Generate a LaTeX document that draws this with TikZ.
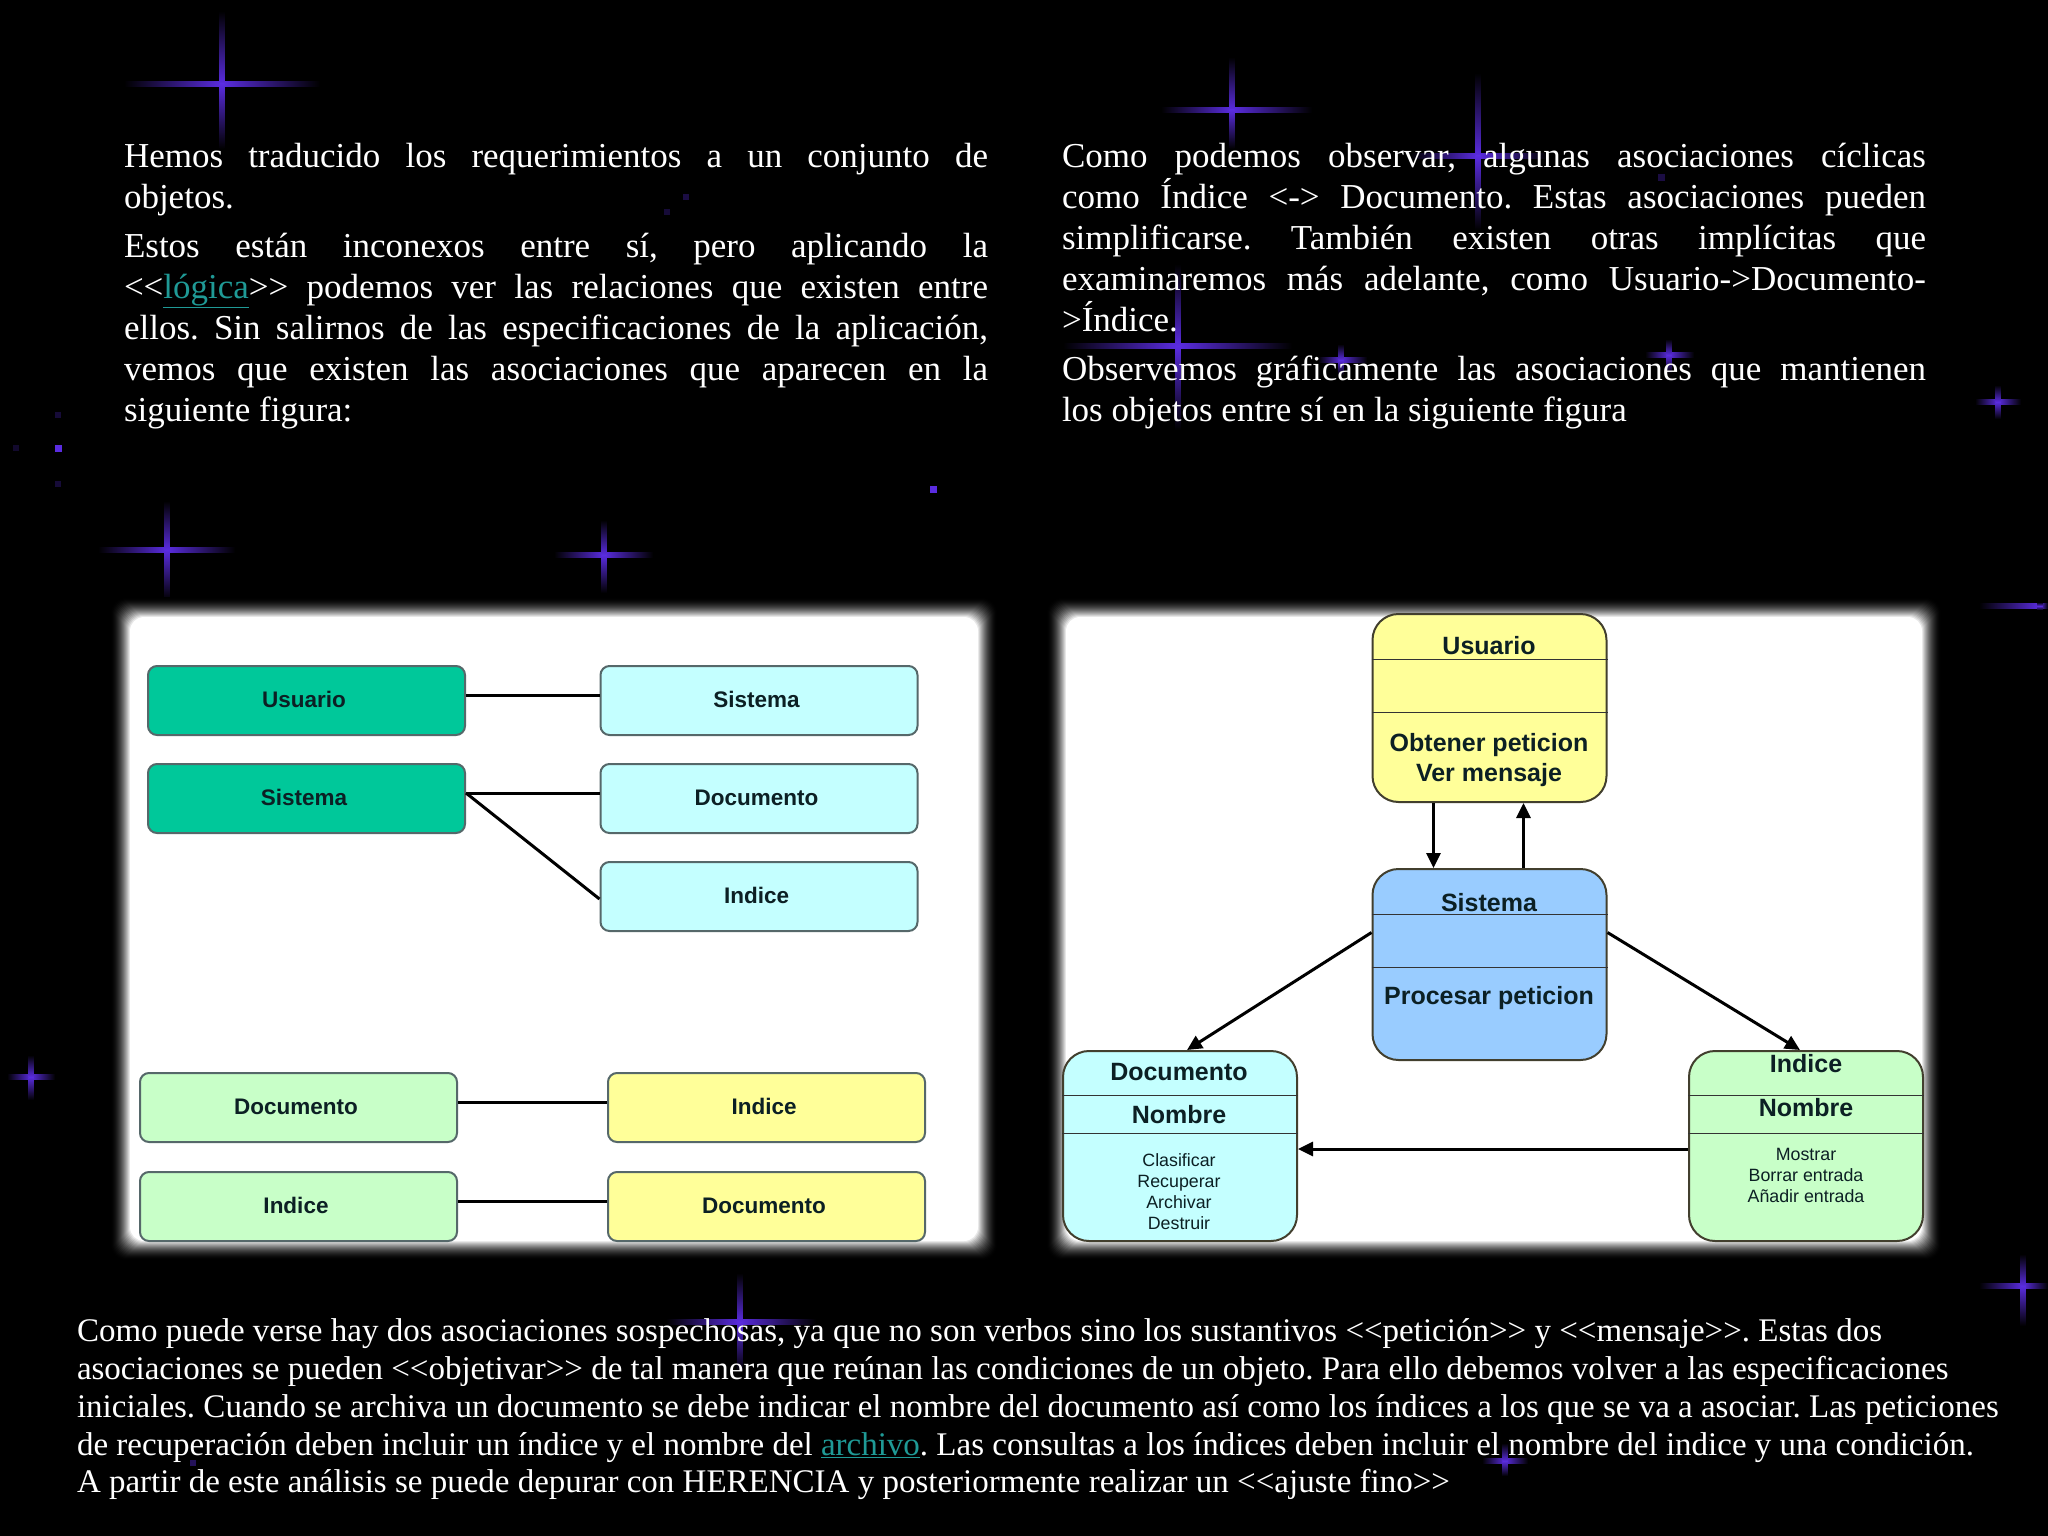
\documentclass[tikz,border=0pt]{standalone}
\usepackage{xcolor}
\usepackage{fontspec}
\usetikzlibrary{arrows.meta}
\newfontfamily\textoFont{Liberation Serif}
\newfontfamily\cajaFont{Liberation Sans}
\definecolor{Estrella}{HTML}{5A2CE0}
\definecolor{Enlace}{HTML}{1F9A96}
\definecolor{Teal}{HTML}{00C89A}
\definecolor{Cian}{HTML}{C4FFFF}
\definecolor{Verde}{HTML}{C8FFC8}
\definecolor{Amarillo}{HTML}{FFFF99}
\definecolor{Azul}{HTML}{99CCFF}
\definecolor{Tinta}{HTML}{0C2024}
\definecolor{Borde}{HTML}{56686A}
\frenchspacing

\begin{document}
\begin{tikzpicture}[x=1pt, y=-1pt]
            \tikzstyle{Parrafo} = [anchor=north west, inner sep=0pt, outer sep=0pt, text=white, font=\textoFont\fontsize{35}{41}\selectfont, align=justify, text width=864pt]
            \tikzstyle{Pie} = [anchor=north west, inner sep=0pt, outer sep=0pt, text=white, font=\textoFont\fontsize{33}{37.7}\selectfont, align=left]
            \tikzstyle{Caja} = [draw=Borde, line width=2pt, rounded corners=9pt, minimum width=317pt, minimum height=69pt, inner sep=0pt, text=Tinta, text height=17pt, text depth=3pt, font=\cajaFont\bfseries\fontsize{22.5}{26}\selectfont, execute at begin node=\hspace*{-5pt}]
            \tikzstyle{Clase} = [draw=black!70!olive, line width=2pt, rounded corners=26pt, minimum width=234pt, inner sep=0pt]
            \tikzstyle{Titulo} = [inner sep=0pt, text=Tinta, font=\cajaFont\bfseries\fontsize{25}{30}\selectfont]
            \tikzstyle{Metodo} = [inner sep=0pt, text=Tinta, font=\cajaFont\fontsize{17.8}{21}\selectfont, align=center]
            \tikzstyle{Linea} = [line width=3pt, color=black]
            \tikzstyle{Flecha} = [line width=3pt, color=black, -{Stealth[inset=0pt, length=15pt, width=14pt]}]
            \useasboundingbox (0,0) rectangle (2048,1536);
            \fill[black] (0,0) rectangle (2048,1536);
            % destellos
            \foreach \cx/\cy/\hl/\hr/\vt/\vb in {222/84/98/98/73/65, 167/550/69/68/49/50, 604/555/50/49/35/38,
                    1232/110/71/80/53/39, 1478/156/68/69/83/74, 1178/346/115/114/82/84,
                    1341/360/23/26/16/15, 1669/355/24/25/16/18, 1998/402/23/23/17/17,
                    31/1077/24/24/22/23, 740/1322/74/76/49/49, 2023/1286/44/25/32/40,
                    1505/1461/23/23/18/15, 2040/606/61/8/4/4} {
                \shade[left color=black, right color=Estrella] (\cx-\hl,\cy-2.5) rectangle (\cx,\cy+2.5);
                \shade[right color=black, left color=Estrella] (\cx,\cy-2.5) rectangle (\cx+\hr,\cy+2.5);
                \shade[top color=black, bottom color=Estrella] (\cx-2.5,\cy-\vt) rectangle (\cx+2.5,\cy);
                \shade[bottom color=black, top color=Estrella] (\cx-2.5,\cy) rectangle (\cx+2.5,\cy+\vb);
            }
            \foreach \cx/\cy/\lado/\tono in {58/448/7/100, 933/489/7/100, 686/197/6/30, 667/212/6/25, 58/415/6/25, 58/484/6/25, 16/448/6/20, 1661/177/7/30, 193/1463/6/40} {
                \fill[Estrella!\tono!black] (\cx-\lado/2,\cy-\lado/2) rectangle (\cx+\lado/2,\cy+\lado/2);
            }
            % paneles blancos con borde difuso
            \foreach \d in {10,9,...,-10} {
                \pgfmathsetmacro{\p}{100*((10-\d)/20)^1.9}
                \fill[white!\p!black, rounded corners=14pt] (120-\d,607-\d) rectangle (988+\d,1251+\d);
                \fill[white!\p!black, rounded corners=14pt] (1056-\d,607-\d) rectangle (1932+\d,1251+\d);
            }
            % textos
            \node[Parrafo] (hemos) at (124,143) {Hemos traducido los requerimientos a un conjunto de\linebreak objetos.};
            \node[Parrafo] (estos) at (124,233) {Estos están inconexos entre sí, pero aplicando la\linebreak
                <<\textcolor{Enlace}{\underline{lógica}}>> podemos ver las relaciones que existen entre\linebreak
                ellos. Sin salirnos de las especificaciones de la aplicación,\linebreak
                vemos que existen las asociaciones que aparecen en la\linebreak siguiente figura:};
            \node[Parrafo] (como) at (1062,143) {Como podemos observar, algunas asociaciones cíclicas\linebreak
                como Índice <-> Documento. Estas asociaciones pueden\linebreak
                simplificarse. También existen otras implícitas que\linebreak
                examinaremos más adelante, como Usuario->Documento-\linebreak >Índice.};
            \node[Parrafo] (observemos) at (1062,356) {Observemos gráficamente las asociaciones que mantienen\linebreak
                los objetos entre sí en la siguiente figura};
            \node[Pie] (pie) at (77,1319) {Como puede verse hay dos asociaciones sospechosas, ya que no son verbos sino los sustantivos <<petición>> y <<mensaje>>. Estas dos\\
                asociaciones se pueden <<objetivar>> de tal manera que reúnan las condiciones de un objeto. Para ello debemos volver a las especificaciones\\
                iniciales. Cuando se archiva un documento se debe indicar el nombre del documento así como los índices a los que se va a asociar. Las peticiones\\
                de recuperación deben incluir un índice y el nombre del \textcolor{Enlace}{\underline{archivo}}. Las consultas a los índices deben incluir el nombre del indice y una condición.\\
                A partir de este análisis se puede depurar con HERENCIA y posteriormente realizar un <<ajuste fino>>};
            % figura izquierda
            \node[Caja, fill=Teal] (usuarioA) at (306.5,700.5) {Usuario};
            \node[Caja, fill=Teal] (sistemaA) at (306.5,798.5) {Sistema};
            \node[Caja, fill=Cian] (sistemaB) at (759,700.5) {Sistema};
            \node[Caja, fill=Cian] (documentoB) at (759,798.5) {Documento};
            \node[Caja, fill=Cian] (indiceB) at (759,896.5) {Indice};
            \node[Caja, fill=Verde] (documentoC) at (298.5,1107.5) {Documento};
            \node[Caja, fill=Verde] (indiceC) at (298.5,1206.5) {Indice};
            \node[Caja, fill=Amarillo] (indiceD) at (766.5,1107.5) {Indice};
            \node[Caja, fill=Amarillo] (documentoD) at (766.5,1206.5) {Documento};
            \draw[Linea] ([yshift=5.5pt]usuarioA.east) -- ([yshift=5.5pt]sistemaB.west);
            \draw[Linea] ([yshift=5.5pt]sistemaA.east) -- ([yshift=5.5pt]documentoB.west);
            \draw[Linea] ([yshift=5.5pt]sistemaA.east) -- ([yshift=-2.5pt]indiceB.west);
            \draw[Linea] ([yshift=5.5pt]documentoC.east) -- ([yshift=5.5pt]indiceD.west);
            \draw[Linea] ([yshift=5.5pt]indiceC.east) -- ([yshift=5.5pt]documentoD.west);
            % figura derecha
            \node[Clase, fill=Amarillo, minimum height=188pt] (usuario) at (1489.5,708) {};
            \node[Clase, fill=Azul, minimum height=191pt] (sistema) at (1489.5,964.5) {};
            \node[Clase, fill=Cian, minimum height=190pt] (documento) at (1180,1146) {};
            \node[Clase, fill=Verde, minimum height=190pt] (indice) at (1806,1146) {};
            \draw[thick, color=black!80] ([yshift=-46pt]usuario.north west) -- ([yshift=-46pt]usuario.north east);
            \draw[thick, color=black!80] ([yshift=-99pt]usuario.north west) -- ([yshift=-99pt]usuario.north east);
            \draw[thick, color=black!80] ([yshift=-46pt]sistema.north west) -- ([yshift=-46pt]sistema.north east);
            \draw[thick, color=black!80] ([yshift=-99pt]sistema.north west) -- ([yshift=-99pt]sistema.north east);
            \draw[thick, color=black!80] ([yshift=-45pt]documento.north west) -- ([yshift=-45pt]documento.north east);
            \draw[thick, color=black!80] ([yshift=-83pt]documento.north west) -- ([yshift=-83pt]documento.north east);
            \draw[thick, color=black!80] ([yshift=-45pt]indice.north west) -- ([yshift=-45pt]indice.north east);
            \draw[thick, color=black!80] ([yshift=-83pt]indice.north west) -- ([yshift=-83pt]indice.north east);
            \node[Titulo] (tituloUsuario) at (1489,646) {Usuario};
            \node[Titulo, align=center] (metodosUsuario) at (1489,760) {Obtener peticion\\Ver mensaje};
            \node[Titulo] (tituloSistema) at (1489,903) {Sistema};
            \node[Titulo] (metodosSistema) at (1489,998) {Procesar peticion};
            \node[Titulo] (tituloDocumento) at (1179,1072) {Documento};
            \node[Titulo] (nombreDocumento) at (1179,1115) {Nombre};
            \node[Metodo] (metodosDocumento) at (1179,1192) {Clasificar\\Recuperar\\Archivar\\Destruir};
            \node[Titulo] (tituloIndice) at (1806,1064) {Indice};
            \node[Titulo] (nombreIndice) at (1806,1108) {Nombre};
            \node[Metodo] (metodosIndice) at (1806,1175) {Mostrar\\Borrar entrada\\Añadir entrada};
            \draw[Flecha] ([xshift=-56pt]usuario.south) -- ([xshift=-56pt]sistema.north);
            \draw[Flecha] ([xshift=34pt]sistema.north) -- ([xshift=34pt]usuario.south);
            \draw[Flecha] ([yshift=32pt]sistema.west) -- ([xshift=7pt]documento.north);
            \draw[Flecha] ([yshift=32pt]sistema.east) -- ([xshift=-6pt]indice.north);
            \draw[Flecha] ([yshift=-3pt]indice.west) -- ([yshift=-3pt]documento.east);
        \end{tikzpicture}
\end{document}
